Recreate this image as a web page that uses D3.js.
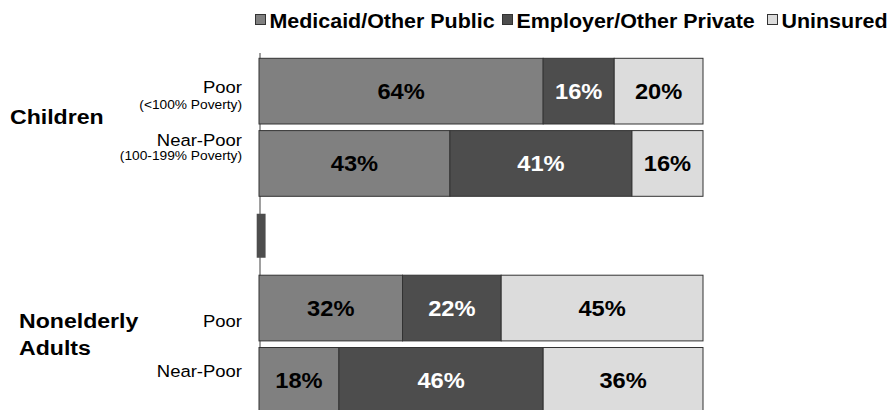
<!DOCTYPE html>
<html><head><meta charset="utf-8">
<script src="https://cdn.jsdelivr.net/npm/d3@7"></script>
<style>body{margin:0;background:#fff}svg{display:block;font-family:"Liberation Sans",Arial,sans-serif}</style>
</head><body><svg id="c" width="889" height="410"></svg>
<script>
const series = ["Medicaid/Other Public","Employer/Other Private","Uninsured"];
const rows = ["Children Poor","Children Near-Poor","gap","Adults Poor","Adults Near-Poor"];
const rowLabels = ["Poor","Near-Poor","","Poor","Near-Poor"];
const rowSubLabels = ["(<100% Poverty)","(100-199% Poverty)","","",""];
const groupLabels = [["Children"],["Nonelderly","Adults"]];
const medicaid = [64,43,null,32,18];
const employer = [16,41,null,22,46];
const uninsured = [20,16,null,45,36];
const colors = ["#808080","#4d4d4d","#dcdcdc"];
const textColors = ["#000","#fff","#000"];

const SX = 1.1; // horizontal stretch of all text as in the reference
const svg = d3.select("#c");
const x = d3.scaleLinear().domain([0,1]).range([259,703]);
const y = d3.scaleBand().domain(rows).range([58.3,413.2]).paddingInner(0.0913).paddingOuter(0);

function txt(px,py,str,opts){
  const g = svg.append("g").attr("transform",`translate(${px},${py}) scale(${SX},1)`);
  const t = g.append("text").attr("x",0).attr("y",0).text(str)
    .attr("font-size",opts.size).attr("fill",opts.fill||"#000")
    .attr("text-anchor",opts.anchor||"start");
  if(opts.bold) t.attr("font-weight","bold");
  if(opts.dy) t.attr("dy",opts.dy);
  return t;
}

const data = rows.map((r,i)=>({row:r,vals:[medicaid[i],employer[i],uninsured[i]]})).filter(d=>d.vals[0]!=null);
const segs = [];
data.forEach(d=>{
  const tot = d3.sum(d.vals); let acc=0;
  d.vals.forEach((v,k)=>{segs.push({row:d.row,k,v,x0:acc/tot,x1:(acc+v)/tot}); acc+=v;});
});

// axis line
svg.append("line").attr("x1",x(0)+1).attr("x2",x(0)+1).attr("y1",53).attr("y2",410)
  .attr("stroke","#808080").attr("stroke-width",1.5);

svg.selectAll("rect.seg").data(segs).join("rect").attr("class","seg")
  .attr("x",d=>x(d.x0)).attr("width",d=>x(d.x1)-x(d.x0))
  .attr("y",d=>y(d.row)).attr("height",y.bandwidth())
  .attr("fill",d=>colors[d.k]).attr("stroke","#333").attr("stroke-width",1);

segs.forEach(d=>{
  txt((x(d.x0)+x(d.x1))/2, y(d.row)+y.bandwidth()/2, d.v+"%",
      {size:21.5,bold:true,fill:textColors[d.k],anchor:"middle",dy:"0.36em"});
});

// break marker in gap row
svg.append("rect").attr("x",x(0)-2.3).attr("width",x(0.02)-x(0))
  .attr("y",y("gap")+y.bandwidth()/2-22).attr("height",44).attr("fill","#4d4d4d");

// row labels
const labOff = [2,-17,0,19,-3.6];
const subOff = [18.3,-3.3,0,0,0];
rows.forEach((r,i)=>{
  if(!rowLabels[i]) return;
  const c = y(r)+y.bandwidth()/2;
  txt(242,c+labOff[i],rowLabels[i],{size:16.8,anchor:"end"});
  if(rowSubLabels[i]) txt(242,c+subOff[i],rowSubLabels[i],{size:12.5,anchor:"end"});
});

// group labels
txt(10,124.3,groupLabels[0][0],{size:21,bold:true});
groupLabels[1].forEach((t,j)=>txt(19,328.3+27*j,t,{size:21,bold:true}));

// legend
const lx = [255,502,767];
series.forEach((s,k)=>{
  svg.append("rect").attr("x",lx[k]+0.5).attr("y",14.5).attr("width",10).attr("height",10)
    .attr("fill",colors[k]).attr("stroke","#333").attr("stroke-width",1);
  txt(lx[k]+14.5,28.3,s,{size:19.5,bold:true});
});
</script></body></html>
